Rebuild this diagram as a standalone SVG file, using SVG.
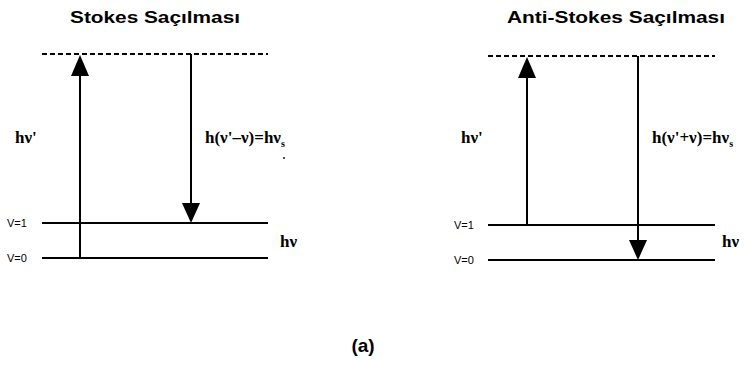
<svg xmlns="http://www.w3.org/2000/svg" width="749" height="370" viewBox="0 0 749 370">
<defs>
<style>
.lvl{stroke:#000;stroke-width:2;fill:none}
.dash{stroke:#000;stroke-width:2;stroke-dasharray:5,3;fill:none}
.arr{stroke:#000;stroke-width:2;fill:none}
.title{font-family:"Liberation Sans",Arial,sans-serif;font-weight:bold;font-size:17px;fill:#000}
.lab{font-family:"Liberation Serif","Times New Roman",serif;font-weight:bold;font-size:17px;fill:#000}
.v{font-family:"Liberation Sans",Arial,sans-serif;font-size:11px;fill:#000}
.cap{font-family:"Liberation Sans",Arial,sans-serif;font-weight:bold;font-size:19px;fill:#000}
</style>
</defs>
<rect width="749" height="370" fill="#fff"/>
<g id="stokes">
<text class="title" x="70" y="23" textLength="170" lengthAdjust="spacingAndGlyphs">Stokes Saçılması</text>
<line class="dash" x1="42" y1="54" x2="268" y2="54"/>
<line class="lvl" x1="42" y1="223" x2="268" y2="223"/>
<line class="lvl" x1="42" y1="258" x2="268" y2="258"/>
<text class="v" x="7" y="227">V=1</text>
<text class="v" x="7" y="262">V=0</text>
<text class="lab" x="15" y="143">hν'</text>
<text class="lab" x="205" y="143">h(ν'–ν)=hν<tspan font-size="10" dy="4">s</tspan></text>
<circle cx="284" cy="158" r="0.9" fill="#000"/>
<text class="lab" x="280" y="247">hν</text>
</g>
<g id="antistokes">
<text class="title" x="507" y="23" textLength="218" lengthAdjust="spacingAndGlyphs">Anti-Stokes Saçılması</text>
<line class="dash" x1="488" y1="56" x2="715" y2="56"/>
<line class="lvl" x1="488" y1="225" x2="715" y2="225"/>
<line class="lvl" x1="488" y1="260" x2="715" y2="260"/>
<text class="v" x="454" y="229">V=1</text>
<text class="v" x="454" y="264">V=0</text>
<text class="lab" x="461" y="143">hν'</text>
<text class="lab" x="652" y="143">h(ν'+ν)=hν<tspan font-size="10" dy="4">s</tspan></text>
<text class="lab" x="722" y="247">hν</text>
</g>
<g id="connectors">
<line class="arr" x1="80" y1="258" x2="80" y2="70"/>
<polygon points="80,55 71,76 89,76" fill="#000"/>
<line class="arr" x1="191" y1="54" x2="191" y2="208"/>
<polygon points="191,223 182,203 200,203" fill="#000"/>
<line class="arr" x1="527" y1="225" x2="527" y2="72"/>
<polygon points="527,57 518,78 536,78" fill="#000"/>
<line class="arr" x1="638" y1="56" x2="638" y2="245"/>
<polygon points="638,260 629,240 647,240" fill="#000"/>
</g>
<text class="cap" x="363" y="352" text-anchor="middle">(a)</text>
</svg>
